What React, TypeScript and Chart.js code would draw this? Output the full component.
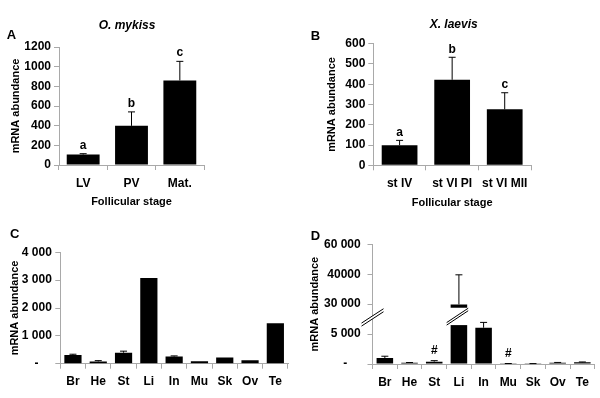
import React, { useEffect, useRef } from 'react';
import { Chart, registerables, LinearScale } from 'chart.js';

Chart.register(...registerables);

const FONT = '"Liberation Sans", Arial, Helvetica, sans-serif';
const AXIS = '#a9a9a9';
const W = 600;
const H = 398;
const NB = '\u00A0\u00A0\u00A0\u00A0';

// ---------- Panel A : O. mykiss ----------
const A_CATS = ['LV', 'PV', 'Mat.'];
const A_VALUES = [106, 398, 860];
const A_ERRORS = [9, 142, 194];
const A_SIG = ['a', 'b', 'c'];
const A_TICKS = [0, 200, 400, 600, 800, 1000, 1200];

// ---------- Panel B : X. laevis ----------
const B_CATS = ['st IV', 'st VI PI', 'st VI MII'];
const B_VALUES = [99, 422, 276];
const B_ERRORS = [24, 111, 82];
const B_SIG = ['a', 'b', 'c'];
const B_TICKS = [0, 100, 200, 300, 400, 500, 600];

// ---------- Panel C / D : tissues ----------
const TISSUES = ['Br', 'He', 'St', 'Li', 'In', 'Mu', 'Sk', 'Ov', 'Te'];

const C_VALUES = [310, 80, 395, 3080, 255, 90, 220, 120, 1450];
const C_ERRORS = [30, 30, 55, 0, 25, 0, 0, 0, 0];
const C_TICKS = [0, 1000, 2000, 3000, 4000];
const C_TICK_LABELS = ['-' + NB, '1 000', '2 000', '3 000', '4 000'];

const D_VALUES = [1010, 220, 390, 29900, 6060, 60, 50, 220, 280];
const D_ERRORS = [290, 30, 170, 9900, 890, 20, 20, 40, 60];
const D_MARKS = ['', '', '#', '', '', '#', '', '', ''];
const D_TICKS = [0, 5000, 30000, 40000, 60000];
const D_TICK_LABELS = ['-' + NB, '5 000', '30 000', '40000', '60 000'];
// broken axis: value knots -> evenly spaced display units
const D_KNOT_VALUES = [0, 7000, 28000, 40000, 60000];
const D_KNOT_UNITS = [0, 1.4, 1.8, 3, 4];
const D_GAP = [6500, 28800];
const D_BROKEN_BAR = 3;

function interp(v: number, xs: number[], ys: number[]) {
  if (v <= xs[0]) return ys[0];
  for (let i = 1; i < xs.length; i++) {
    if (v <= xs[i]) {
      const t = (v - xs[i - 1]) / (xs[i] - xs[i - 1]);
      return ys[i - 1] + t * (ys[i] - ys[i - 1]);
    }
  }
  const n = xs.length - 1;
  return ys[n] + ((v - xs[n]) * (ys[n] - ys[n - 1])) / (xs[n] - xs[n - 1]);
}

class BrokenScale extends LinearScale {
  static id = 'brokenLinear';
  static defaults = {};
  buildTicks() {
    return D_TICKS.map((value) => ({ value }));
  }
  getPixelForValue(value: number) {
    if (value === null || value === undefined) return NaN;
    const u = interp(value, D_KNOT_VALUES, D_KNOT_UNITS);
    return (this as any).getPixelForDecimal(u / D_KNOT_UNITS[D_KNOT_UNITS.length - 1]);
  }
  getValueForPixel(pixel: number) {
    const d = (this as any).getDecimalForPixel(pixel) * D_KNOT_UNITS[D_KNOT_UNITS.length - 1];
    return interp(d, D_KNOT_UNITS, D_KNOT_VALUES);
  }
}
Chart.register(BrokenScale as any);

type Panel = {
  cats: string[];
  values: number[];
  errors: number[];
  marks: string[];
  markGap: number;
  yType: string;
  yMax: number;
  yStep?: number;
  yLabel: (v: number) => string;
  area: { left: number; right: number; top: number; bottom: number };
  yTitleX: number;
  yTickPad: number;
  xTitle?: string;
  xBottom: number;
  xLabelPad: number;
  barPct: number;
  broken?: boolean;
};

function doubleSlash(ctx: CanvasRenderingContext2D, x1: number, y1: number, x2: number, y2: number, gap: number) {
  ctx.fillStyle = '#fff';
  ctx.beginPath();
  ctx.moveTo(x1, y1);
  ctx.lineTo(x2, y2);
  ctx.lineTo(x2, y2 + gap);
  ctx.lineTo(x1, y1 + gap);
  ctx.closePath();
  ctx.fill();
  ctx.strokeStyle = '#000';
  ctx.lineWidth = 1;
  ctx.beginPath();
  ctx.moveTo(x1, y1);
  ctx.lineTo(x2, y2);
  ctx.moveTo(x1, y1 + gap);
  ctx.lineTo(x2, y2 + gap);
  ctx.stroke();
}

function makeErrPlugin(p: Panel) {
  return {
    id: 'errs',
    afterDatasetsDraw(chart: any) {
      const meta = chart.getDatasetMeta(0);
      const ys = chart.scales.y;
      const ctx = chart.ctx;
      ctx.save();
      if (p.broken) {
        const bar = meta.data[D_BROKEN_BAR];
        const yLo = ys.getPixelForValue(D_GAP[0]);
        const yHi = ys.getPixelForValue(D_GAP[1]);
        const l = bar.x - bar.width / 2;
        const r = bar.x + bar.width / 2;
        ctx.fillStyle = '#fff';
        ctx.fillRect(l - 1, yHi, r - l + 2, yLo - yHi);
        doubleSlash(ctx, l - 4, yLo - 2.5, r + 1, yHi + 0.5, 2.5);
        // axis break
        const ax = chart.chartArea.left;
        doubleSlash(ctx, ax - 11, yLo - 2, ax + 11, yHi + 1, 3);
      }
      ctx.strokeStyle = '#000';
      ctx.lineWidth = 1;
      ctx.fillStyle = '#000';
      ctx.font = `bold 12px ${FONT}`;
      ctx.textAlign = 'center';
      ctx.textBaseline = 'alphabetic';
      meta.data.forEach((bar: any, i: number) => {
        const v = p.values[i];
        const e = p.errors[i];
        let top = bar.y;
        if (e > 0) {
          const yt = ys.getPixelForValue(v + e);
          ctx.beginPath();
          ctx.moveTo(bar.x, bar.y);
          ctx.lineTo(bar.x, yt);
          ctx.moveTo(bar.x - 3.5, yt);
          ctx.lineTo(bar.x + 3.5, yt);
          ctx.stroke();
          top = yt;
        }
        if (p.marks[i]) ctx.fillText(p.marks[i], bar.x, top - p.markGap);
      });
      ctx.restore();
    },
  };
}

function PanelChart({ p }: { p: Panel }) {
  const ref = useRef<HTMLCanvasElement>(null);
  useEffect(() => {
    if (!ref.current) return;
    const titleLH = 11 * 1.2;
    const yLeft = p.yTitleX - titleLH / 2;
    const yWidth = p.area.left - yLeft;
    const xHeight = p.xBottom - p.area.bottom;
    const chart = new Chart(ref.current, {
      type: 'bar',
      data: {
        labels: p.cats,
        datasets: [
          {
            data: p.values,
            backgroundColor: '#000',
            borderWidth: 0,
            barPercentage: p.barPct,
            categoryPercentage: 1,
          },
        ],
      },
      options: {
        animation: false,
        responsive: false,
        maintainAspectRatio: false,
        events: [],
        layout: {
          padding: {
            left: yLeft,
            top: p.area.top,
            right: W - p.area.right,
            bottom: H - p.xBottom,
          },
        },
        plugins: {
          legend: { display: false },
          tooltip: { enabled: false },
          title: { display: false },
        },
        scales: {
          x: {
            type: 'category',
            grid: {
              display: true,
              drawOnChartArea: false,
              drawTicks: true,
              tickLength: 5,
              color: AXIS,
              offset: true,
            },
            border: { display: true, color: AXIS, width: 1 },
            ticks: {
              color: '#000',
              font: { family: FONT, size: 12, weight: 'bold' },
              padding: p.xLabelPad,
              maxRotation: 0,
              autoSkip: false,
            },
            title: {
              display: !!p.xTitle,
              text: p.xTitle || '',
              color: '#000',
              font: { family: FONT, size: 11, weight: 'bold' },
              padding: 0,
            },
            afterFit: (s: any) => {
              s.height = xHeight;
            },
          },
          y: {
            type: p.yType as any,
            min: 0,
            max: p.yMax,
            grid: {
              display: true,
              drawOnChartArea: false,
              drawTicks: true,
              tickLength: 5,
              color: AXIS,
            },
            border: { display: true, color: AXIS, width: 1 },
            ticks: {
              stepSize: p.yStep,
              color: '#000',
              font: { family: FONT, size: 12, weight: 'bold' },
              padding: p.yTickPad,
              autoSkip: false,
              callback: (v: any) => p.yLabel(Number(v)),
            },
            title: {
              display: true,
              text: 'mRNA abundance',
              color: '#000',
              font: { family: FONT, size: 11, weight: 'bold' },
              padding: 0,
            },
            afterFit: (s: any) => {
              s.width = yWidth;
            },
          },
        },
      } as any,
      plugins: [makeErrPlugin(p)],
    });
    return () => chart.destroy();
  }, [p]);
  return (
    <canvas
      ref={ref}
      width={W}
      height={H}
      style={{ position: 'absolute', left: 0, top: 0, width: W, height: H, pointerEvents: 'none' }}
    />
  );
}

const PANELS: Panel[] = [
  {
    cats: A_CATS,
    values: A_VALUES,
    errors: A_ERRORS,
    marks: A_SIG,
    markGap: 5,
    yType: 'linear',
    yMax: 1200,
    yStep: 200,
    yLabel: (v) => (A_TICKS.includes(v) ? String(v) : ''),
    area: { left: 59, right: 204, top: 47, bottom: 165 },
    yTitleX: 15.5,
    yTickPad: 3,
    xTitle: 'Follicular stage',
    xBottom: 208.6,
    xLabelPad: 6,
    barPct: 0.68,
  },
  {
    cats: B_CATS,
    values: B_VALUES,
    errors: B_ERRORS,
    marks: B_SIG,
    markGap: 4.5,
    yType: 'linear',
    yMax: 600,
    yStep: 100,
    yLabel: (v) => (B_TICKS.includes(v) ? String(v) : ''),
    area: { left: 373.3, right: 531, top: 43.7, bottom: 165.3 },
    yTitleX: 331.5,
    yTickPad: 3,
    xTitle: 'Follicular stage',
    xBottom: 209.1,
    xLabelPad: 6,
    barPct: 0.68,
  },
  {
    cats: TISSUES,
    values: C_VALUES,
    errors: C_ERRORS,
    marks: TISSUES.map(() => ''),
    markGap: 5,
    yType: 'linear',
    yMax: 4000,
    yStep: 1000,
    yLabel: (v) => {
      const i = C_TICKS.indexOf(v);
      return i >= 0 ? C_TICK_LABELS[i] : '';
    },
    area: { left: 60.3, right: 288, top: 252.3, bottom: 363.7 },
    yTitleX: 14.5,
    yTickPad: 3.5,
    xBottom: 389,
    xLabelPad: 6,
    barPct: 0.68,
  },
  {
    cats: TISSUES,
    values: D_VALUES,
    errors: D_ERRORS,
    marks: D_MARKS,
    markGap: 7,
    yType: 'brokenLinear',
    yMax: 60000,
    yLabel: (v) => {
      const i = D_TICKS.indexOf(v);
      return i >= 0 ? D_TICK_LABELS[i] : '';
    },
    area: { left: 372.5, right: 594.7, top: 244.3, bottom: 364 },
    yTitleX: 315,
    yTickPad: 6.8,
    xBottom: 389,
    xLabelPad: 6,
    barPct: 0.67,
    broken: true,
  },
];

const TEXTS = [
  { t: 'A', x: 11.5, y: 33.5, size: 13, italic: false },
  { t: 'B', x: 315.5, y: 34.5, size: 13, italic: false },
  { t: 'C', x: 14.7, y: 233, size: 13, italic: false },
  { t: 'D', x: 315.5, y: 235, size: 13, italic: false },
  { t: 'O. mykiss', x: 127, y: 25, size: 12, italic: true },
  { t: 'X. laevis', x: 453.7, y: 23.5, size: 12, italic: true },
];

export default function App() {
  return (
    <div
      style={{
        position: 'fixed',
        left: 0,
        top: 0,
        width: W,
        height: H,
        background: '#fff',
        overflow: 'hidden',
      }}
    >
      {PANELS.map((p, i) => (
        <PanelChart key={i} p={p} />
      ))}
      {TEXTS.map((t, i) => (
        <div
          key={'t' + i}
          style={{
            position: 'absolute',
            left: t.x,
            top: t.y,
            transform: 'translate(-50%, -50%)',
            fontFamily: FONT,
            fontWeight: 'bold',
            fontStyle: t.italic ? 'italic' : 'normal',
            fontSize: t.size,
            lineHeight: 1,
            whiteSpace: 'nowrap',
            color: '#000',
          }}
        >
          {t.t}
        </div>
      ))}
    </div>
  );
}
